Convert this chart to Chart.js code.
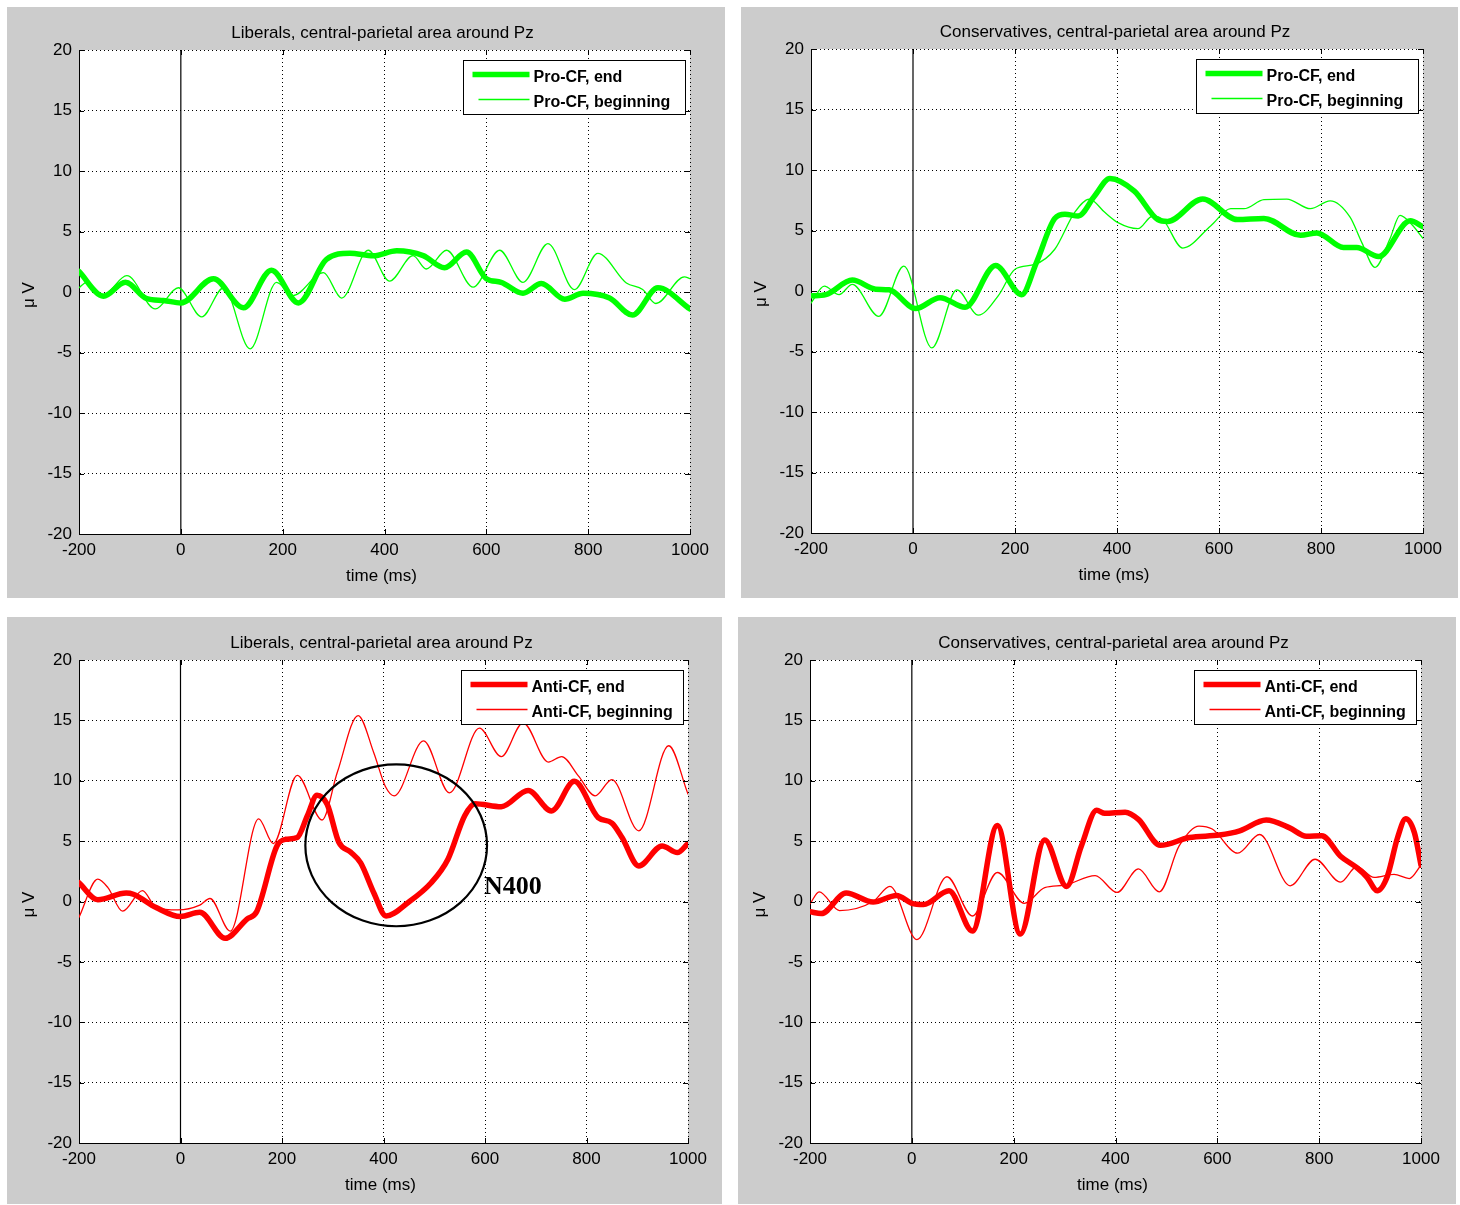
<!DOCTYPE html>
<html>
<head>
<meta charset="utf-8">
<script src="https://cdn.jsdelivr.net/npm/chart.js@4.4.1/dist/chart.umd.min.js"></script>
<style>
  body { margin:0; background:#fff; width:1460px; height:1205px; position:relative; overflow:hidden; }
  .panel { position:absolute; background:#cccccc; }
  .panel canvas { display:block; }
</style>
</head>
<body>
<div class="panel" style="left:7px;top:7px;width:718px;height:591px"><canvas id="c1" width="718" height="591"></canvas></div>
<div class="panel" style="left:741px;top:7px;width:717px;height:591px"><canvas id="c2" width="717" height="591"></canvas></div>
<div class="panel" style="left:7px;top:617px;width:715px;height:587px"><canvas id="c3" width="715" height="587"></canvas></div>
<div class="panel" style="left:738px;top:617px;width:718px;height:587px"><canvas id="c4" width="718" height="587"></canvas></div>
<script>
// ============================
// DATA (time in ms, amplitude in µV)
// ============================
const xTicks = [-200, 0, 200, 400, 600, 800, 1000];
const yTicks = [-20, -15, -10, -5, 0, 5, 10, 15, 20];

// Liberals, Pro-CF
const libProEndT = [-200,-152,-109,-67,-34,0,64,123,178,231,286,332,378,424,476,518,561,600,629,672,708,754,790,842,887,937,1000];
const libProEndV = [1.7,-0.35,0.8,-0.55,-0.7,-0.9,1.1,-1.3,1.8,-0.9,2.7,3.2,3.0,3.4,3.0,2.0,3.3,1.1,0.8,-0.1,0.7,-0.6,-0.1,-0.5,-1.9,0.35,-1.4];
const libProBegT = [-200,-185,-152,-106,-50,-5,41,84,136,188,220,280,316,368,410,456,482,522,574,626,672,721,773,819,875,907,933,989,1000];
const libProBegV = [0.35,0.8,-0.2,1.35,-1.4,0.35,-2.05,0.35,-4.7,0.8,-0.3,1.6,-0.5,3.45,0.9,3.0,1.9,3.45,0.4,3.45,0.8,4.0,0.2,3.2,0.75,0.2,-0.95,1.25,1.1];

// Conservatives, Pro-CF
const conProEndT = [-200,-171,-119,-73,-47,5,53,102,162,213,242,278,298,324,356,386,434,480,499,568,636,688,760,792,844,870,913,975,1000];
const conProEndV = [-0.4,-0.3,0.9,0.15,0.1,-1.45,-0.55,-1.35,2.1,-0.3,2.35,6.0,6.35,6.2,7.85,9.3,8.25,5.9,5.75,7.6,5.9,6.0,4.6,4.8,3.6,3.6,2.85,5.8,5.3];
const conProBegT = [-200,-174,-145,-119,-67,-18,37,86,128,167,200,239,278,317,346,376,402,441,470,490,529,584,623,649,688,733,779,818,857,880,906,935,955,978,1000];
const conProBegV = [-1.0,0.4,-0.3,0.55,-2.1,2.05,-4.7,0.1,-2.0,-0.4,1.8,2.2,3.45,6.5,7.6,6.5,5.65,5.15,6.2,5.9,3.55,5.4,6.8,6.8,7.55,7.6,6.8,7.45,6.1,4.0,1.95,4.3,6.25,5.5,4.35];

// Liberals, Anti-CF
const libAntiEndT = [-200,-163,-107,-93,-48,0,38,88,131,150,190,207,230,250,269,289,312,335,355,381,405,448,494,527,560,580,632,685,731,776,823,850,870,903,949,979,1000];
const libAntiEndV = [1.55,0.15,0.7,0.6,-0.5,-1.25,-0.9,-3.05,-1.45,-0.85,4.6,5.15,5.3,7.1,8.8,8.05,4.9,4.1,3.2,0.7,-1.2,-0.1,1.55,3.5,7.1,8.1,7.85,9.2,7.5,9.95,6.95,6.5,5.3,2.95,4.6,4.05,4.8];
const libAntiBegT = [-200,-163,-143,-114,-75,-48,-5,38,58,98,154,183,230,279,309,350,381,404,421,479,530,589,632,675,725,751,784,817,850,903,962,1000];
const libAntiBegV = [-1.3,1.85,1.15,-0.8,0.9,-0.5,-0.7,-0.3,0.25,-2.45,6.85,4.8,10.45,6.75,10.7,15.4,12.3,9.5,8.75,13.3,9.0,14.35,12.0,14.8,11.55,12.0,10.4,8.75,10.1,5.85,12.9,8.9];

// Conservatives, Anti-CF
const conAntiEndT = [-200,-178,-129,-76,-30,0,23,73,119,168,213,261,304,333,363,379,419,445,488,545,604,644,696,742,775,805,842,874,894,914,934,954,970,987,1000];
const conAntiEndV = [-0.85,-1.0,0.7,-0.05,0.5,-0.15,-0.25,0.9,-2.45,6.3,-2.7,5.1,1.25,4.6,7.55,7.3,7.4,6.8,4.65,5.3,5.5,5.85,6.75,6.1,5.4,5.45,3.75,2.8,2.0,0.9,2.1,5.3,6.85,5.7,3.0];
const conAntiBegT = [-200,-182,-142,-76,-43,10,69,119,168,221,261,300,360,403,445,486,525,564,590,640,683,743,792,842,874,908,947,977,1000];
const conAntiBegV = [-0.2,0.8,-0.75,0,1.25,-3.15,2.05,-1.2,2.4,-0.15,1.15,1.35,2.15,0.75,2.7,0.8,4.6,6.25,6.0,4.0,5.55,1.3,3.5,1.6,2.9,2.0,2.25,1.9,3.0];

// N400 annotation (data units)
const n400Ellipse = { t: 425, v: 4.65, rt: 179, rv: 6.7 };
const n400Label = { t: 598, v: 1.2, text: "N400" };

// ============================
// STYLE
// ============================
const GREEN = "#00ff00";
const RED = "#ff0000";
const FONT = '"Liberation Sans", Arial, sans-serif';
const FONT_SIZE = 17;
const LEGEND_FONT = 'bold 16px "Liberation Sans", Arial, sans-serif';

const zip = (t, v) => t.map((x, i) => ({ x, y: v[i] }));

// ============================
// DECORATION PLUGIN
// ============================
function decor(cfg){
  return {
    id: "decor",
    beforeDraw(chart){
      const { ctx, chartArea: a } = chart;
      ctx.save();
      ctx.fillStyle = "#fff";
      ctx.fillRect(a.left, a.top, a.right - a.left, a.bottom - a.top);
      ctx.restore();
    },
    afterDraw(chart){
      const { ctx, chartArea: a, scales } = chart;
      ctx.save();
      ctx.fillStyle = "#000";
      ctx.strokeStyle = "#000";
      ctx.font = FONT_SIZE + "px " + FONT;
      ctx.textAlign = "center";
      ctx.textBaseline = "middle";
      ctx.fillText(cfg.title, (a.left + a.right) / 2 - 2, a.top - 17);
      ctx.fillText("time (ms)", (a.left + a.right) / 2 - 3, a.bottom + 42);
      ctx.save();
      ctx.translate(a.left - 50, (a.top + a.bottom) / 2 + 3);
      ctx.rotate(-Math.PI / 2);
      ctx.fillText("\u03bc V", 0, 0);
      ctx.restore();

      // inner tick marks (MATLAB style)
      ctx.lineWidth = 1;
      ctx.beginPath();
      xTicks.forEach(t => {
        const px = Math.round(scales.x.getPixelForValue(t)) + 0.5;
        ctx.moveTo(px, a.bottom); ctx.lineTo(px, a.bottom - 5);
        ctx.moveTo(px, a.top); ctx.lineTo(px, a.top + 5);
      });
      yTicks.forEach(v => {
        const py = Math.round(scales.y.getPixelForValue(v)) + 0.5;
        ctx.moveTo(a.left, py); ctx.lineTo(a.left + 5, py);
        ctx.moveTo(a.right, py); ctx.lineTo(a.right - 5, py);
      });
      ctx.stroke();

      // legend box
      const w = 222, h = 54;
      const bx = Math.round(a.right - 5 - w) + 0.5, by = Math.round(a.top + 10) + 0.5;
      ctx.fillStyle = "#fff";
      ctx.fillRect(bx, by, w, h);
      ctx.strokeRect(bx, by, w, h);
      ctx.font = LEGEND_FONT;
      ctx.textAlign = "left";
      const ds = chart.data.datasets;
      [[0, 14, 9], [1, 39, 15]].forEach(([i, dy, x0]) => {
        ctx.strokeStyle = ds[i].borderColor;
        ctx.lineWidth = ds[i].borderWidth;
        ctx.beginPath();
        ctx.moveTo(bx + x0, by + dy); ctx.lineTo(bx + 66, by + dy);
        ctx.stroke();
        ctx.fillStyle = "#000";
        ctx.fillText(ds[i].label, bx + 70, by + dy + 3);
      });

      if (cfg.n400){
        const cx = scales.x.getPixelForValue(n400Ellipse.t);
        const cy = scales.y.getPixelForValue(n400Ellipse.v);
        const rx = scales.x.getPixelForValue(n400Ellipse.t + n400Ellipse.rt) - cx;
        const ry = cy - scales.y.getPixelForValue(n400Ellipse.v + n400Ellipse.rv);
        ctx.strokeStyle = "#000";
        ctx.lineWidth = 2.2;
        ctx.beginPath();
        ctx.ellipse(cx, cy, rx, ry, 0, 0, Math.PI * 2);
        ctx.stroke();
        ctx.font = 'bold 26px "Liberation Serif", "Times New Roman", serif';
        ctx.textBaseline = "middle";
        ctx.fillText(n400Label.text, scales.x.getPixelForValue(n400Label.t), scales.y.getPixelForValue(n400Label.v));
      }
      ctx.restore();
    }
  };
}

// ============================
// CHART FACTORY
// ============================
function makeChart(id, geo, cfg){
  const canvas = document.getElementById(id);
  const yWidth = geo.plotLeft - geo.left;
  const xHeight = geo.top + geo.height - geo.plotBottom;
  return new Chart(canvas.getContext("2d"), {
    type: "line",
    data: {
      datasets: [
        { label: cfg.labels[0], data: zip(cfg.endT, cfg.endV), borderColor: cfg.color, borderWidth: 5.5 },
        { label: cfg.labels[1], data: zip(cfg.begT, cfg.begV), borderColor: cfg.color, borderWidth: 1.3 },
        { label: "zero", data: [{ x: 0, y: -20 }, { x: 0, y: 20 }], borderColor: "#000", borderWidth: 1.2, cubicInterpolationMode: "default", tension: 0 }
      ]
    },
    options: {
      responsive: false,
      animation: false,
      events: [],
      elements: { point: { radius: 0 }, line: { cubicInterpolationMode: "monotone", borderCapStyle: "round", borderJoinStyle: "round" } },
      layout: { padding: { left: 0, bottom: 0, top: geo.plotTop - geo.top, right: geo.left + geo.width - geo.plotRight } },
      plugins: { legend: { display: false }, tooltip: { enabled: false }, title: { display: false } },
      scales: {
        x: {
          type: "linear", min: -200, max: 1000,
          afterBuildTicks: s => { s.ticks = xTicks.map(v => ({ value: v })); },
          afterFit: s => { s.height = xHeight; s.paddingLeft = 0; s.paddingRight = 0; },
          ticks: { color: "#000", font: { family: FONT, size: FONT_SIZE }, padding: 6, maxRotation: 0, autoSkip: false, callback: v => String(v) },
          grid: { color: c => (c.tick && c.tick.value === 0 ? "rgba(0,0,0,0)" : "#000"), lineWidth: 1, drawTicks: false },
          border: { display: true, color: "#000", width: 1, dash: [1, 3] }
        },
        y: {
          min: -20, max: 20,
          afterBuildTicks: s => { s.ticks = yTicks.map(v => ({ value: v })); },
          afterFit: s => { s.width = yWidth; s.paddingTop = 0; s.paddingBottom = 0; },
          ticks: { color: "#000", font: { family: FONT, size: FONT_SIZE }, padding: 7, autoSkip: false, callback: v => String(v) },
          grid: { color: "#000", lineWidth: 1, drawTicks: false },
          border: { display: true, color: "#000", width: 1, dash: [1, 3] }
        }
      }
    },
    plugins: [decor(cfg)]
  });
}

const title1 = "Liberals, central-parietal area around Pz";
const title2 = "Conservatives, central-parietal area around Pz";

makeChart("c1", { left: 7, top: 7, width: 718, height: 591, plotLeft: 79, plotTop: 50, plotRight: 690, plotBottom: 534 },
  { title: title1, labels: ["Pro-CF, end", "Pro-CF, beginning"], color: GREEN, endT: libProEndT, endV: libProEndV, begT: libProBegT, begV: libProBegV });
makeChart("c2", { left: 741, top: 7, width: 717, height: 591, plotLeft: 811, plotTop: 49, plotRight: 1423, plotBottom: 533 },
  { title: title2, labels: ["Pro-CF, end", "Pro-CF, beginning"], color: GREEN, endT: conProEndT, endV: conProEndV, begT: conProBegT, begV: conProBegV });
makeChart("c3", { left: 7, top: 617, width: 715, height: 587, plotLeft: 79, plotTop: 660, plotRight: 688, plotBottom: 1143 },
  { title: title1, labels: ["Anti-CF, end", "Anti-CF, beginning"], color: RED, endT: libAntiEndT, endV: libAntiEndV, begT: libAntiBegT, begV: libAntiBegV, n400: true });
makeChart("c4", { left: 738, top: 617, width: 718, height: 587, plotLeft: 810, plotTop: 660, plotRight: 1421, plotBottom: 1143 },
  { title: title2, labels: ["Anti-CF, end", "Anti-CF, beginning"], color: RED, endT: conAntiEndT, endV: conAntiEndV, begT: conAntiBegT, begV: conAntiBegV });
</script>
</body>
</html>
